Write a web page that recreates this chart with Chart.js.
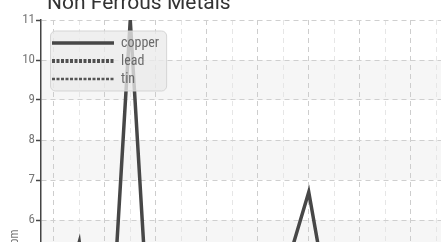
<!DOCTYPE html>
<html><head><meta charset="utf-8">
<script src="https://cdn.jsdelivr.net/npm/chart.js@4/dist/chart.umd.min.js"></script>
<style>
html,body{margin:0;padding:0;background:#fff;overflow:hidden;width:441px;height:242px;}
#wrap{position:absolute;left:0;top:0;width:560px;height:500px;}
#title{position:absolute;left:47px;top:-8px;margin:0;font:21px/21px Roboto,sans-serif;color:#333;white-space:nowrap;z-index:2;}
</style></head><body>
<div id="wrap"><canvas id="c" width="560" height="500"></canvas></div>
<div id="title"></div>
<script>
const chartTitle = 'Non Ferrous Metals';
const yAxisTitle = 'ppm';
const categories = ['1','2','3','4','5','6','7','8','9','10','11','12','13','14','15','16','17','18','19','20'];
const seriesNames = ['copper', 'lead', 'tin'];
const copper = [3.2, 5.45, 0.33, 11, 0.33, 1.8, 2.4, 1.5, 2.9, 4.55, 6.7, 3.1, 2.2, 1.6, 3.8, 2.5, 1.9, 4.2, 2.7, 3.3];
const lead = [1.2, 1.8, 2.1, 1.5, 2.6, 1.9, 1.4, 2.3, 2.0, 1.7, 2.8, 2.2, 1.6, 2.4, 1.9, 2.1, 1.5, 2.7, 2.0, 1.8];
const tin = [0.6, 0.9, 0.7, 1.1, 0.8, 0.5, 1.0, 0.7, 0.9, 1.2, 0.8, 0.6, 1.0, 0.9, 0.7, 1.1, 0.8, 0.6, 0.9, 1.0];
const yMin = 0, yMax = 11, yStep = 1;

document.getElementById('title').textContent = chartTitle;

const narrow = "'Liberation Sans Narrow', 'Roboto Condensed', Roboto, sans-serif";

const bandsPlugin = {
  id: 'bands',
  beforeDraw(chart) {
    const y = chart.scales.y, a = chart.chartArea, ctx = chart.ctx;
    ctx.save();
    ctx.fillStyle = '#f6f6f6';
    for (let v = yMin + 1; v < yMax; v += 2) {
      const top = y.getPixelForValue(v + 1), bot = y.getPixelForValue(v);
      ctx.fillRect(a.left, top, a.right - a.left, bot - top);
    }
    ctx.restore();
  }
};

const chart = new Chart(document.getElementById('c'), {
  type: 'line',
  data: {
    labels: categories,
    datasets: [
      {label: seriesNames[0], data: copper, borderColor: '#474747', backgroundColor: '#474747', borderWidth: 3.5, pointRadius: 0, tension: 0},
      {label: seriesNames[1], data: lead, borderColor: '#505050', backgroundColor: '#505050', borderWidth: 4, borderDash: [3, 1.5], pointRadius: 0, tension: 0},
      {label: seriesNames[2], data: tin, borderColor: '#555555', backgroundColor: '#555555', borderWidth: 2.5, borderDash: [3, 1.5], pointRadius: 0, tension: 0}
    ]
  },
  options: {
    responsive: false,
    animation: false,
    devicePixelRatio: 1,
    layout: {padding: {top: 20, right: 9, left: 0, bottom: 0}},
    plugins: {
      title: {display: false},
      tooltip: {enabled: false},
      legend: {
        position: 'chartArea',
        align: 'start',
        labels: {
          usePointStyle: true, pointStyle: 'line', pointStyleWidth: 62, boxHeight: 10,
          color: '#6a6a6a', font: {size: 14, family: narrow}, padding: 4,
          generateLabels(ch) {
            const items = Chart.defaults.plugins.legend.labels.generateLabels(ch);
            items.forEach(it => {
              const ds = ch.data.datasets[it.datasetIndex];
              it.lineDash = ds.borderDash || [];
              it.lineWidth = ds.borderWidth;
              it.strokeStyle = ds.borderColor;
              it.pointStyle = 'line';
            });
            return items;
          }
        }
      }
    },
    scales: {
      x: {
        type: 'category',
        offset: true,
        grid: {offset: false, color: c => (c.index % 2 === 0 ? '#cdcdcd' : '#e6e6e6'), lineWidth: 1, drawTicks: false},
        border: {display: true, color: '#444', width: 1.5, dash: [5, 4]},
        ticks: {color: '#777', font: {size: 12, family: narrow}},
        afterFit(s) { s.height = 40; }
      },
      y: {
        min: yMin, max: yMax,
        ticks: {stepSize: yStep, color: '#777', font: {size: 13, family: narrow}, padding: 1},
        grid: {color: '#cfcfcf', lineWidth: 1, tickColor: '#444', tickLength: 5, tickWidth: 1.5},
        border: {display: true, color: '#444', width: 1.5, dash: [5, 4]},
        title: {display: true, text: yAxisTitle, color: '#777', font: {size: 12, family: narrow}, padding: {top: 8, bottom: 0}},
        afterFit(s) { s.width = 41; }
      }
    }
  },
  plugins: [bandsPlugin]
});

const lg = chart.legend;
lg._layers = function () {
  return [{
    z: 5,
    draw() {
      const ctx = chart.ctx;
      const hb = lg.legendHitBoxes;
      if (!hb || !hb.length) { lg.draw(); return; }
      const dx = 7, dy = 32;
      let l = Infinity, t = Infinity, r = -Infinity, b = -Infinity;
      hb.forEach(h => { l = Math.min(l, h.left); t = Math.min(t, h.top); r = Math.max(r, h.left + h.width); b = Math.max(b, h.top + h.height); });
      ctx.save();
      ctx.translate(dx, dy);
      ctx.beginPath();
      ctx.roundRect(l - 1.5, t - 5, (r - l) + 9, (b - t) + 10, 5);
      ctx.fillStyle = 'rgba(234,234,234,0.78)';
      ctx.fill();
      ctx.strokeStyle = 'rgba(210,210,210,0.9)';
      ctx.lineWidth = 1;
      ctx.stroke();
      lg.draw();
      ctx.restore();
    }
  }];
};
chart.update('none');
</script>
</body></html>
